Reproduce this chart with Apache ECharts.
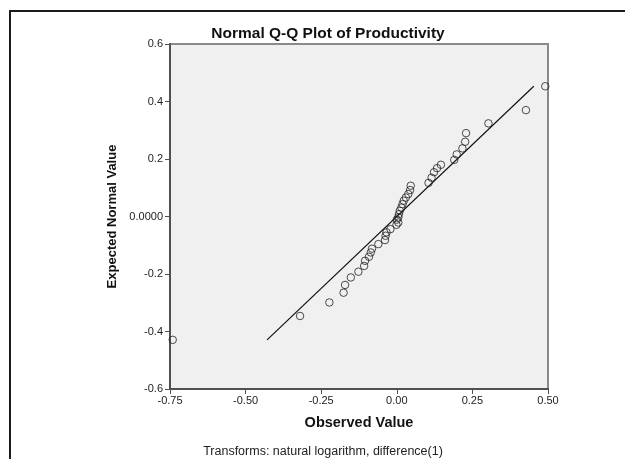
<!DOCTYPE html>
<html>
<head>
<meta charset="utf-8">
<title>Normal Q-Q Plot of Productivity</title>
<script src="https://cdn.jsdelivr.net/npm/echarts@6/dist/echarts.min.js"></script>
<style>
  html, body { margin: 0; padding: 0; background: #ffffff; }
  #chart { width: 625px; height: 459px; }
</style>
</head>
<body>
<div id="chart"></div>
<script>
// Observed (log-differenced) productivity values and their expected normal quantiles
const observedValues = [
  -0.741, -0.320, -0.223, -0.176, -0.171, -0.152, -0.127, -0.108, -0.105, -0.092,
  -0.086, -0.082, -0.061, -0.039, -0.037, -0.034, -0.021, -0.001, 0.005, 0.000,
  0.005, 0.007, 0.010, 0.015, 0.019, 0.023, 0.030, 0.038, 0.044, 0.046,
  0.105, 0.115, 0.123, 0.133, 0.146, 0.190, 0.198, 0.217, 0.226, 0.229,
  0.303, 0.427, 0.491
];
const expectedValues = [
  -0.429, -0.346, -0.299, -0.265, -0.238, -0.212, -0.192, -0.172, -0.154, -0.140,
  -0.125, -0.112, -0.096, -0.082, -0.067, -0.055, -0.044, -0.029, -0.021, -0.011,
  -0.003, 0.008, 0.020, 0.031, 0.043, 0.055, 0.066, 0.078, 0.092, 0.107,
  0.117, 0.135, 0.154, 0.168, 0.180, 0.197, 0.216, 0.237, 0.260, 0.290,
  0.324, 0.370, 0.453
];

// Axis ranges and tick spacing
const xTicks = { min: -0.75, max: 0.5, interval: 0.25 };
const yTicks = { min: -0.6, max: 0.6, interval: 0.2 };

const points = observedValues.map((x, i) => [x, expectedValues[i]]);

// Reference line y = x spanning the expected-quantile range
const lineLo = Math.min(...expectedValues);
const lineHi = Math.max(...expectedValues);
const refLine = [[lineLo, lineLo], [lineHi, lineHi]];

const chart = echarts.init(document.getElementById('chart'), null, { renderer: 'canvas' });

const FONT = 'Liberation Sans, Arial, sans-serif';

chart.setOption({
  animation: false,
  backgroundColor: '#ffffff',
  title: {
    text: 'Normal Q-Q Plot of Productivity',
    left: 323,
    top: 21,
    textAlign: 'center',
    textStyle: { fontFamily: FONT, fontSize: 15.5, fontWeight: 'bold', color: '#111' }
  },
  grid: {
    left: 170, right: 77, top: 44, bottom: 70,
    show: true,
    backgroundColor: '#f0f0f0',
    borderColor: '#8a8a8a',
    borderWidth: 2
  },
  xAxis: {
    type: 'value',
    min: xTicks.min, max: xTicks.max, interval: xTicks.interval,
    name: 'Observed Value',
    nameLocation: 'middle',
    nameGap: 26,
    nameTextStyle: { fontFamily: FONT, fontSize: 14.5, fontWeight: 'bold', color: '#111' },
    axisLine: { onZero: false, lineStyle: { color: '#505050', width: 2 } },
    axisTick: { show: true, length: 5, lineStyle: { color: '#505050', width: 1 } },
    axisLabel: {
      fontFamily: FONT, fontSize: 11, color: '#222', margin: 6,
      formatter: v => v.toFixed(2)
    },
    splitLine: { show: false }
  },
  yAxis: {
    type: 'value',
    min: yTicks.min, max: yTicks.max, interval: yTicks.interval,
    name: 'Expected Normal Value',
    nameLocation: 'middle',
    nameGap: 51,
    nameRotate: 90,
    nameTextStyle: { fontFamily: FONT, fontSize: 13, fontWeight: 'bold', color: '#111' },
    axisLine: { onZero: false, lineStyle: { color: '#505050', width: 2 } },
    axisTick: { show: true, length: 5, lineStyle: { color: '#505050', width: 1 } },
    axisLabel: {
      fontFamily: FONT, fontSize: 11, color: '#222', margin: 7,
      formatter: v => (Math.abs(v) < 1e-9 ? '0.0000' : v.toFixed(1))
    },
    splitLine: { show: false }
  },
  graphic: [
    // outer frame
    { type: 'line', shape: { x1: 9, y1: 11, x2: 625, y2: 11 }, style: { stroke: '#1a1a1a', lineWidth: 2 } },
    { type: 'line', shape: { x1: 10, y1: 11, x2: 10, y2: 459 }, style: { stroke: '#1a1a1a', lineWidth: 2 } },
    // footnote
    {
      type: 'text', x: 323, y: 452,
      style: {
        text: 'Transforms: natural logarithm, difference(1)',
        font: '12.5px ' + FONT, fill: '#222',
        textAlign: 'center', textVerticalAlign: 'middle'
      }
    }
  ],
  series: [
    {
      type: 'line',
      data: refLine,
      symbol: 'none',
      lineStyle: { color: '#111', width: 1.2 },
      silent: true,
      z: 2
    },
    {
      type: 'scatter',
      data: points,
      symbol: 'circle',
      symbolSize: 7.5,
      itemStyle: { color: 'rgba(0,0,0,0)', borderColor: '#222', borderWidth: 1 },
      z: 3
    }
  ]
});
</script>
</body>
</html>
